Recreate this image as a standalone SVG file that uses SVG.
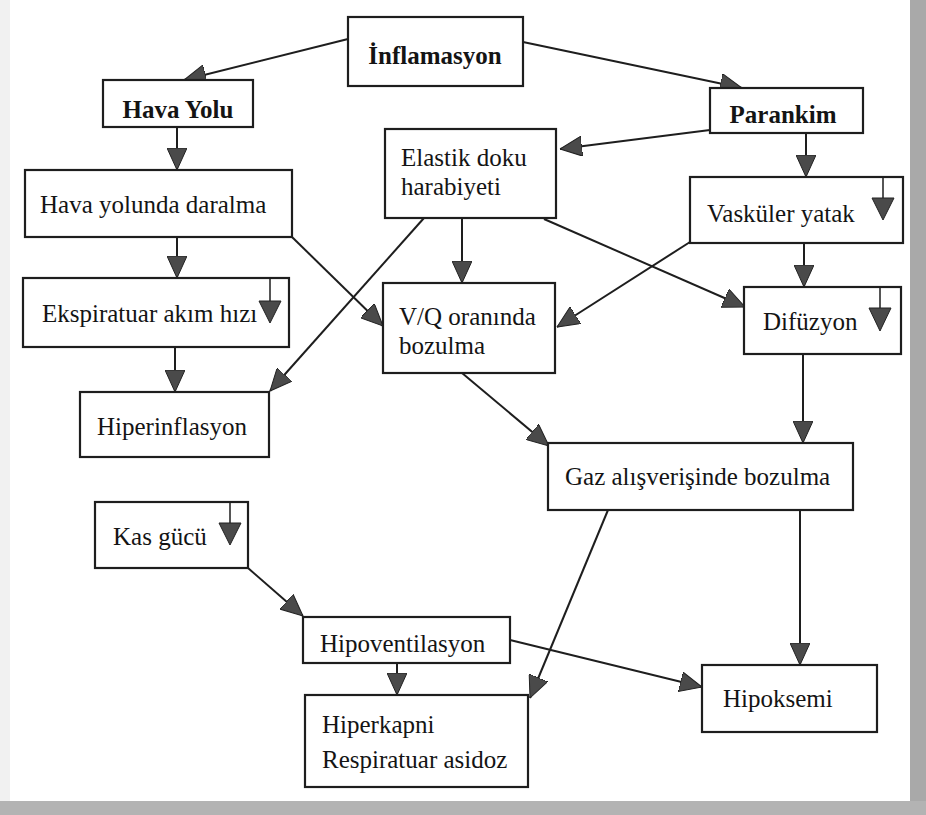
<svg xmlns="http://www.w3.org/2000/svg" width="926" height="815" viewBox="0 0 926 815">
<defs>
<marker id="ah" viewBox="0 0 22 20" refX="22" refY="10" markerWidth="22" markerHeight="20" markerUnits="userSpaceOnUse" orient="auto">
<path d="M0,0 L22,10 L0,20 z" fill="#4a4a4a" stroke="#222" stroke-width="1"/>
</marker>
<style>
.box{fill:#fff;stroke:#1e1e1e;stroke-width:2.2}
.t{font-family:"Liberation Serif","Times New Roman",serif;font-size:25px;fill:#141414}
.b{font-weight:bold}
.c{stroke:#1e1e1e;stroke-width:2;fill:none;marker-end:url(#ah)}
.il{stroke:#1e1e1e;stroke-width:1.5}
.it{fill:#4a4a4a;stroke:#222;stroke-width:1}
</style>
</defs>
<rect x="0" y="0" width="926" height="815" fill="#fff"/>
<rect x="0" y="0" width="10" height="815" fill="#f1f1f1"/>
<rect x="910" y="0" width="16" height="815" fill="#a9a9a9"/>
<rect x="0" y="801" width="926" height="14" fill="#b3b3b3"/>

<g id="connectors">
<line class="c" x1="348" y1="39" x2="184" y2="80"/>
<line class="c" x1="523" y1="42" x2="742" y2="88"/>
<line class="c" x1="177" y1="127" x2="177" y2="170"/>
<line class="c" x1="177" y1="237" x2="177" y2="278"/>
<line class="c" x1="175" y1="347" x2="175" y2="392"/>
<line class="c" x1="292" y1="237" x2="383" y2="326"/>
<line class="c" x1="424" y1="218" x2="270" y2="391"/>
<line class="c" x1="462" y1="218" x2="462" y2="283"/>
<line class="c" x1="544" y1="219" x2="745" y2="307"/>
<line class="c" x1="710" y1="130" x2="560" y2="149"/>
<line class="c" x1="806" y1="133" x2="806" y2="177"/>
<line class="c" x1="690" y1="242" x2="557" y2="327"/>
<line class="c" x1="804" y1="243" x2="804" y2="287"/>
<line class="c" x1="803" y1="354" x2="803" y2="443"/>
<line class="c" x1="462" y1="373" x2="549" y2="446"/>
<line class="c" x1="608" y1="510" x2="530" y2="698"/>
<line class="c" x1="800" y1="510" x2="800" y2="665"/>
<line class="c" x1="248" y1="568" x2="303" y2="616"/>
<line class="c" x1="510" y1="640" x2="702" y2="687"/>
<line class="c" x1="397" y1="663" x2="397" y2="695"/>
</g>

<g id="inflamasyon">
<rect class="box" x="348" y="17" width="175" height="69"/>
<text class="t b" x="435" y="64" text-anchor="middle">İnflamasyon</text>
</g>
<g id="hava-yolu">
<rect class="box" x="103" y="80" width="150" height="47"/>
<text class="t b" x="178" y="118" text-anchor="middle">Hava Yolu</text>
</g>
<g id="parankim">
<rect class="box" x="710" y="88" width="153" height="45"/>
<text class="t b" x="783" y="123" text-anchor="middle">Parankim</text>
</g>
<g id="elastik">
<rect class="box" x="385" y="129" width="171" height="89"/>
<text class="t" x="401" y="166">Elastik doku</text>
<text class="t" x="401" y="195">harabiyeti</text>
</g>
<g id="hava-yolunda-daralma">
<rect class="box" x="25" y="170" width="267" height="67"/>
<text class="t" x="40" y="213">Hava yolunda daralma</text>
</g>
<g id="vaskuler">
<rect class="box" x="690" y="177" width="213" height="66"/>
<text class="t" x="707" y="222">Vasküler yatak</text>
<line class="il" x1="883" y1="177" x2="883" y2="198"/>
<polygon class="it" points="872,198 894,198 883,220"/>
</g>
<g id="ekspiratuar">
<rect class="box" x="23" y="278" width="266" height="69"/>
<text class="t" x="42" y="322">Ekspiratuar akım hızı</text>
<line class="il" x1="270" y1="278" x2="270" y2="301"/>
<polygon class="it" points="259,301 281,301 270,323"/>
</g>
<g id="vq">
<rect class="box" x="383" y="283" width="172" height="90"/>
<text class="t" x="399" y="325">V/Q oranında</text>
<text class="t" x="399" y="354">bozulma</text>
</g>
<g id="difuzyon">
<rect class="box" x="744" y="287" width="157" height="67"/>
<text class="t" x="763" y="330">Difüzyon</text>
<line class="il" x1="880" y1="287" x2="880" y2="308"/>
<polygon class="it" points="869,308 891,308 880,331"/>
</g>
<g id="hiperinflasyon">
<rect class="box" x="80" y="392" width="189" height="65"/>
<text class="t" x="97" y="435">Hiperinflasyon</text>
</g>
<g id="gaz">
<rect class="box" x="548" y="443" width="305" height="67"/>
<text class="t" x="565" y="485">Gaz alışverişinde bozulma</text>
</g>
<g id="kas-gucu">
<rect class="box" x="95" y="502" width="153" height="66"/>
<text class="t" x="113" y="545">Kas gücü</text>
<line class="il" x1="230" y1="502" x2="230" y2="523"/>
<polygon class="it" points="219,523 241,523 230,545"/>
</g>
<g id="hipoventilasyon">
<rect class="box" x="303" y="617" width="207" height="46"/>
<text class="t" x="320" y="652">Hipoventilasyon</text>
</g>
<g id="hiperkapni">
<rect class="box" x="305" y="695" width="223" height="92"/>
<text class="t" x="322" y="733">Hiperkapni</text>
<text class="t" x="322" y="768">Respiratuar asidoz</text>
</g>
<g id="hipoksemi">
<rect class="box" x="702" y="665" width="175" height="67"/>
<text class="t" x="723" y="707">Hipoksemi</text>
</g>
</svg>
